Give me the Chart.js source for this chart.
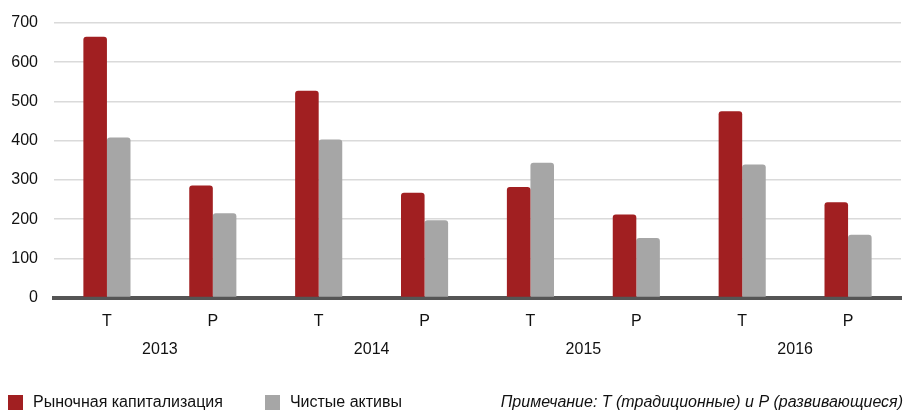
<!DOCTYPE html>
<html>
<head>
<meta charset="utf-8">
<script src="https://cdn.jsdelivr.net/npm/chart.js@4"></script>
<style>
    html, body { margin: 0; padding: 0; background: #fff; }
    #wrap { width: 910px; height: 410px; position: relative; font-family: "Liberation Sans", Arial, sans-serif; }
    #legend { position: absolute; left: 8px; top: 393px; height: 18px; display: flex; gap: 42px; font-size: 16px; line-height: 18px; color: #111; }
    #legend .item { display: flex; align-items: flex-start; }
    #legend .box { width: 15px; height: 15px; margin-top: 2px; margin-right: 10px; }
    #note { position: absolute; right: 7px; top: 393px; height: 18px; font-size: 16px; line-height: 18px; font-style: italic; color: #111; }
</style>
</head>
<body>
<div id="wrap">
    <canvas id="chart"></canvas>
    <div id="legend"></div>
    <div id="note"></div>
</div>
<script>
// categories: Т (традиционные) / Р (развивающиеся) for each year
const categories = ['Т', 'Р', 'Т', 'Р', 'Т', 'Р', 'Т', 'Р'];
const years = ['2013', '2014', '2015', '2016'];
const marketCap = [665, 286, 527, 267, 282, 212, 475, 243];
const netAssets = [408, 215, 403, 197, 344, 152, 339, 160];
const yTicks = [0, 100, 200, 300, 400, 500, 600, 700];
const noteText = 'Примечание: Т (традиционные) и Р (развивающиеся)';

const FONT = '"Liberation Sans", Arial, sans-serif';

document.addEventListener('DOMContentLoaded', function() {
    const ctx = document.getElementById('chart').getContext('2d');
    const chart = new Chart(ctx, {
        type: 'bar',
        data: {
            labels: categories,
            datasets: [{
                label: 'Рыночная капитализация',
                data: marketCap,
                backgroundColor: '#A11F21',
                borderRadius: 3,
                borderSkipped: 'start'
            }, {
                label: 'Чистые активы',
                data: netAssets,
                backgroundColor: '#A6A6A6',
                borderRadius: 3,
                borderSkipped: 'start'
            }]
        },
        options: {
            responsive: true,
            maintainAspectRatio: false,
            animation: false,
            categoryPercentage: 0.445,
            barPercentage: 1,
            layout: {
                padding: { left: 0, right: 9, top: 23, bottom: 44 }
            },
            plugins: {
                legend: { display: false },
                tooltip: { enabled: false }
            },
            scales: {
                x: {
                    grid: { display: false, drawTicks: false },
                    border: { display: true, color: '#555555', width: 4 },
                    ticks: {
                        padding: 14,
                        color: '#111',
                        font: { family: FONT, size: 16 }
                    },
                    afterFit: function(axis) {
                        axis.height -= 12;
                    }
                },
                x2: {
                    type: 'category',
                    labels: years,
                    position: 'bottom',
                    offset: true,
                    grid: { display: false, drawTicks: false },
                    border: { display: false },
                    ticks: {
                        padding: 7,
                        color: '#111',
                        font: { family: FONT, size: 16 }
                    }
                },
                y: {
                    min: 0,
                    max: 700,
                    afterBuildTicks: function(axis) {
                        axis.ticks = yTicks.map(v => ({ value: v }));
                    },
                    afterFit: function(axis) {
                        axis.width = 54;
                        axis.paddingTop = 0;
                        axis.paddingBottom = 0;
                    },
                    grid: {
                        drawTicks: false,
                        color: ctx => ctx.tick && ctx.tick.value === 0 ? 'rgba(0,0,0,0)' : '#DADADA',
                        lineWidth: 1.5
                    },
                    border: { display: false },
                    ticks: {
                        padding: 16,
                        color: '#111',
                        font: { family: FONT, size: 16 }
                    }
                }
            }
        }
    });

    // html legend built from the datasets
    const legendDiv = document.getElementById('legend');
    chart.data.datasets.forEach(ds => {
        const item = document.createElement('div');
        item.className = 'item';
        const box = document.createElement('span');
        box.className = 'box';
        box.style.background = ds.backgroundColor;
        const label = document.createElement('span');
        label.textContent = ds.label;
        item.appendChild(box);
        item.appendChild(label);
        legendDiv.appendChild(item);
    });
    document.getElementById('note').textContent = noteText;
});
</script>
</body>
</html>
